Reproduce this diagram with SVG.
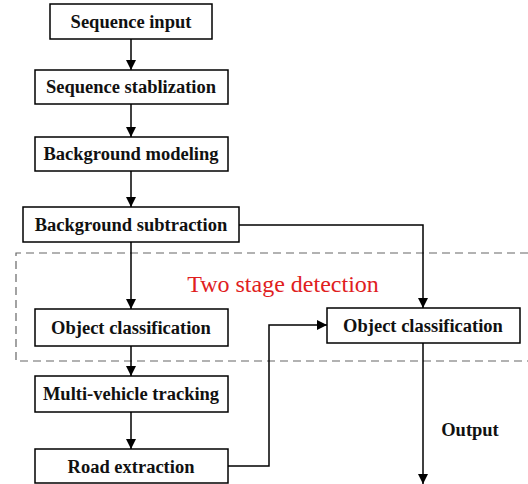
<svg xmlns="http://www.w3.org/2000/svg" width="528" height="484" viewBox="0 0 528 484">
<style>
.box{fill:#fff;stroke:#000;stroke-width:1.5}
.lbl{font-family:"Liberation Serif","Times New Roman",serif;font-weight:bold;font-size:18.5px;fill:#111;text-anchor:middle}
.con{fill:none;stroke:#000;stroke-width:1.5}
.dash{fill:none;stroke:#666;stroke-width:1.2;stroke-dasharray:8 5}
</style>
<defs>
<marker id="ah" markerUnits="userSpaceOnUse" markerWidth="10" markerHeight="14" viewBox="0 0 10 14" refX="10" refY="5" orient="auto">
<path d="M0,0 L10,5 L0,10 Z" fill="#000"/>
</marker>
</defs>
<rect width="528" height="484" fill="#fff"/>
<path class="dash" d="M528,253 H16 V361 H528"/>
<text x="283" y="292" font-family="Liberation Serif,Times New Roman,serif" font-size="24" fill="#e0201e" text-anchor="middle">Two stage detection</text>
<g id="connectors">
<path class="con" d="M131,39 V70" marker-end="url(#ah)"/>
<path class="con" d="M131,104 V137" marker-end="url(#ah)"/>
<path class="con" d="M131,171 V207" marker-end="url(#ah)"/>
<path class="con" d="M131,242 V309" marker-end="url(#ah)"/>
<path class="con" d="M131,346 V376" marker-end="url(#ah)"/>
<path class="con" d="M131,412 V449" marker-end="url(#ah)"/>
<path class="con" d="M239,225 H423 V308" marker-end="url(#ah)"/>
<path class="con" d="M228,466 H269 V325 H327" marker-end="url(#ah)"/>
<path class="con" d="M423,343 V484" marker-end="url(#ah)"/>
</g>
<g id="n1"><rect class="box" x="50" y="4" width="162" height="35"/><text class="lbl" x="131" y="28">Sequence input</text></g>
<g id="n2"><rect class="box" x="35" y="70" width="193" height="34"/><text class="lbl" x="131" y="93">Sequence stablization</text></g>
<g id="n3"><rect class="box" x="35" y="137" width="193" height="34"/><text class="lbl" x="131" y="160">Background modeling</text></g>
<g id="n4"><rect class="box" x="23" y="207" width="216" height="35"/><text class="lbl" x="131" y="231">Background subtraction</text></g>
<g id="n5"><rect class="box" x="35" y="309" width="193" height="37"/><text class="lbl" x="131" y="334">Object classification</text></g>
<g id="n6"><rect class="box" x="35" y="376" width="193" height="36"/><text class="lbl" x="131" y="400">Multi-vehicle tracking</text></g>
<g id="n7"><rect class="box" x="35" y="449" width="193" height="34"/><text class="lbl" x="131" y="473">Road extraction</text></g>
<g id="n8"><rect class="box" x="327" y="308" width="193" height="35"/><text class="lbl" x="423" y="332">Object classification</text></g>
<g id="out"><text class="lbl" x="470" y="436">Output</text></g>
</svg>
